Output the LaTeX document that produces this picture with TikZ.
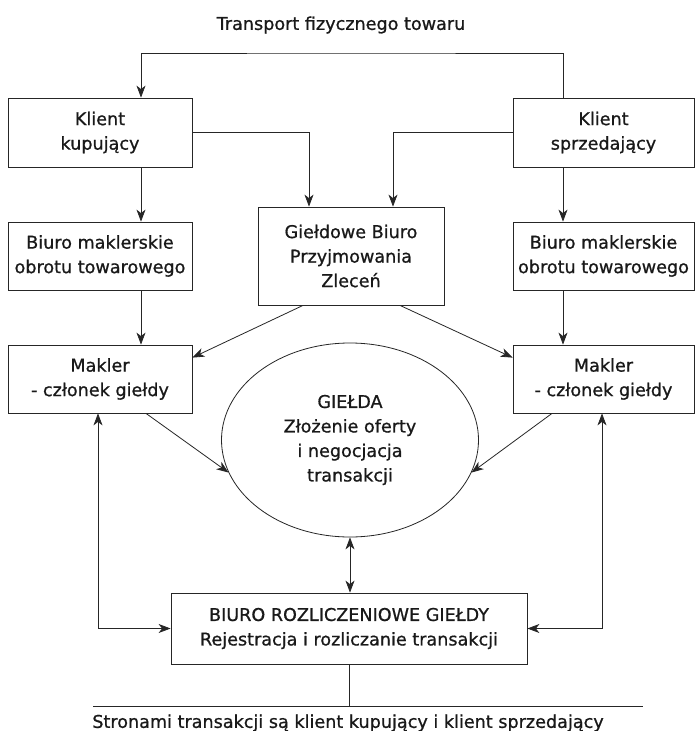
\documentclass[tikz,border=0pt]{standalone}
\usepackage{fontspec}
\setmainfont[FakeBold=0.8]{DejaVu Sans}
\usetikzlibrary{arrows.meta,shapes.geometric}
\begin{document}
\begin{tikzpicture}[x=1pt,y=-1pt,
  txt/.style={font=\fontsize{17.6}{24.5}\selectfont, align=center, text=black!90, inner sep=0pt},
  box/.style={txt, draw=black!85, line width=0.8pt, rectangle, minimum width=#1},
  ln/.style={draw=black!85, line width=0.8pt},
  arr/.style={ln, -{Stealth[length=12pt,width=9pt,inset=3.5pt]}},
  darr/.style={ln, {Stealth[length=12pt,width=9pt,inset=3.5pt]}-{Stealth[length=12pt,width=9pt,inset=3.5pt]}}
]
\useasboundingbox[fill=white] (0,0) rectangle (695,731);
% nodes
\node[txt] (title) at (341,25) {Transport fizycznego towaru};
\node[box=184pt, minimum height=69pt] (kk) at (100,132.5) {Klient\\kupujący};
\node[box=181pt, minimum height=69pt] (ks) at (603.5,132.5) {Klient\\sprzedający};
\node[box=184pt, minimum height=68pt] (bml) at (100,256) {Biuro maklerskie\\obrotu towarowego};
\node[box=186pt, minimum height=98pt] (gb) at (351,256) {Giełdowe Biuro\\Przyjmowania\\Zleceń};
\node[box=181pt, minimum height=68pt] (bmr) at (603.5,256) {Biuro maklerskie\\obrotu towarowego};
\node[box=184pt, minimum height=68pt] (ml) at (100,379) {Makler\\- członek giełdy};
\node[box=181pt, minimum height=68pt] (mr) at (603.5,379) {Makler\\- członek giełdy};
\node[txt, ellipse, draw=black!85, line width=0.8pt, minimum width=257pt, minimum height=194pt] (ell) at (350,440) {GIEŁDA\\Złożenie oferty\\i negocjacja\\transakcji};
\node[box=356pt, minimum height=71pt] (br) at (349,628.5) {BIURO ROZLICZENIOWE GIEŁDY\\Rejestracja i rozliczanie transakcji};
\node[txt] (foot) at (348,723) {Stronami transakcji są klient kupujący i klient sprzedający};
% helper coordinates
\coordinate (ka) at (141,0);
\coordinate (sa) at (563,0);
\coordinate (rail) at (350,53);
\coordinate (g1) at (309,0);
\coordinate (g2) at (393,0);
\coordinate (lx) at (98,0);
\coordinate (rx) at (602,0);
\coordinate (fl) at (93,706);
\coordinate (fr) at (643,706);
% connectors
\draw[arr] (ks.north -| sa) |- (rail) -| (kk.north -| ka);
\draw[arr] (kk.east) -| (gb.north -| g1);
\draw[arr] (ks.west) -| (gb.north -| g2);
\draw[arr] (kk.south -| ka) -- (bml.north -| ka);
\draw[arr] (ks.south -| sa) -- (bmr.north -| sa);
\draw[arr] (bml.south -| ka) -- (ml.north -| ka);
\draw[arr] (bmr.south -| sa) -- (mr.north -| sa);
\draw[arr] ([xshift=-48pt]gb.south) -- ([yshift=-13pt]ml.north east);
\draw[arr] ([xshift=49pt]gb.south) -- ([yshift=-13pt]mr.north west);
\draw[arr] ([xshift=46pt]ml.south) -- (ell.195);
\draw[arr] ([xshift=-51.5pt]mr.south) -- (ell.345);
\draw[darr] (ell.south) -- (ell.south |- br.north);
\draw[darr] (ml.south -| lx) |- (br.west);
\draw[darr] (mr.south -| rx) |- (br.east);
\draw[ln] (br.south) -- (br.south |- fl);
\draw[ln] (fl) -- (fr);
\end{tikzpicture}
\end{document}
